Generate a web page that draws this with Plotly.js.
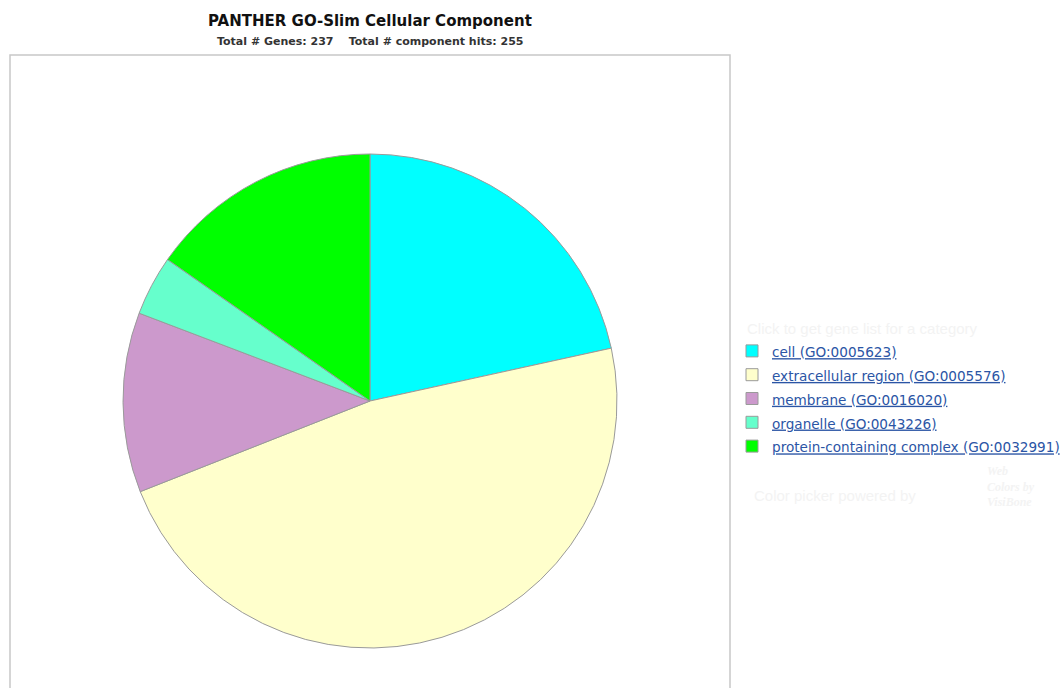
<!DOCTYPE html>
<html>
<head>
<meta charset="utf-8">
<script src="https://cdn.plot.ly/plotly-3.0.1.min.js"></script>
<style>
html,body{margin:0;padding:0;background:#fff;}
#chart{width:1062px;height:688px;}
</style>
</head>
<body>
<div id="chart"></div>
<script>
const categories = [
  "cell (GO:0005623)",
  "extracellular region (GO:0005576)",
  "membrane (GO:0016020)",
  "organelle (GO:0043226)",
  "protein-containing complex (GO:0032991)"
];
const hits = [55, 121, 30, 10, 39];
const colors = ["#00FFFF", "#FFFFCC", "#CC99CC", "#66FFCC", "#00FF00"];
const titleText = "PANTHER GO-Slim Cellular Component";
const subtitleText = "Total # Genes: 237&nbsp;&nbsp;&nbsp;&nbsp;Total # component hits: 255";

const W = 1062, H = 688;
const px = x => x / W;
const py = y => 1 - y / H;

const trace = {
  type: "pie",
  labels: categories.map(c => '<span style="font-size:13.6px"><u>' + c + '</u></span>'),
  values: hits,
  sort: false,
  direction: "clockwise",
  rotation: 0,
  textinfo: "none",
  hoverinfo: "label+value+percent",
  marker: { colors: colors, line: { color: "#9a9a9a", width: 1 } },
  domain: { x: [px(123), px(617)], y: [py(648), py(154)] }
};

const layout = {
  width: W, height: H,
  margin: { l: 0, r: 0, t: 0, b: 0, autoexpand: false },
  paper_bgcolor: "#ffffff",
  showlegend: true,
  legend: {
    x: px(732), y: py(334), xanchor: "left", yanchor: "top",
    font: { family: "DejaVu Sans, Verdana, sans-serif", size: 16, color: "#2b55a5" },
    bgcolor: "rgba(0,0,0,0)",
    tracegroupgap: 0
  },
  shapes: [
    { type: "rect", xref: "paper", yref: "paper",
      x0: px(10), x1: px(730), y0: py(700), y1: py(55),
      line: { color: "#c8c8c8", width: 1.5 }, fillcolor: "rgba(0,0,0,0)", layer: "below" }
  ],
  annotations: [
    { xref: "paper", yref: "paper", x: px(370), y: py(21), xanchor: "center", yanchor: "middle",
      text: "<b>" + titleText + "</b>", showarrow: false,
      font: { family: "DejaVu Sans, Verdana, sans-serif", size: 15, color: "#111111" } },
    { xref: "paper", yref: "paper", x: px(370), y: py(41), xanchor: "center", yanchor: "middle",
      text: "<b>" + subtitleText + "</b>", showarrow: false,
      font: { family: "DejaVu Sans, Verdana, sans-serif", size: 11, color: "#333333" } },
    { xref: "paper", yref: "paper", x: px(745), y: py(328), xanchor: "left", yanchor: "middle",
      text: "Click to get gene list for a category", showarrow: false,
      font: { family: "Liberation Sans, Arial, sans-serif", size: 15, color: "#f3f3f3" } },
    { xref: "paper", yref: "paper", x: px(752), y: py(496), xanchor: "left", yanchor: "middle",
      text: "Color picker powered by", showarrow: false,
      font: { family: "Liberation Sans, Arial, sans-serif", size: 15, color: "#f3f3f3" } },
    { xref: "paper", yref: "paper", x: px(985), y: py(486), xanchor: "left", yanchor: "middle",
      text: "<b><i>Web<br>Colors by<br>VisiBone</i></b>", showarrow: false, align: "left",
      font: { family: "Liberation Serif, serif", size: 12, color: "#f3f3f3" } }
  ]
};

Plotly.newPlot("chart", [trace], layout, { displayModeBar: false });
</script>
</body>
</html>
